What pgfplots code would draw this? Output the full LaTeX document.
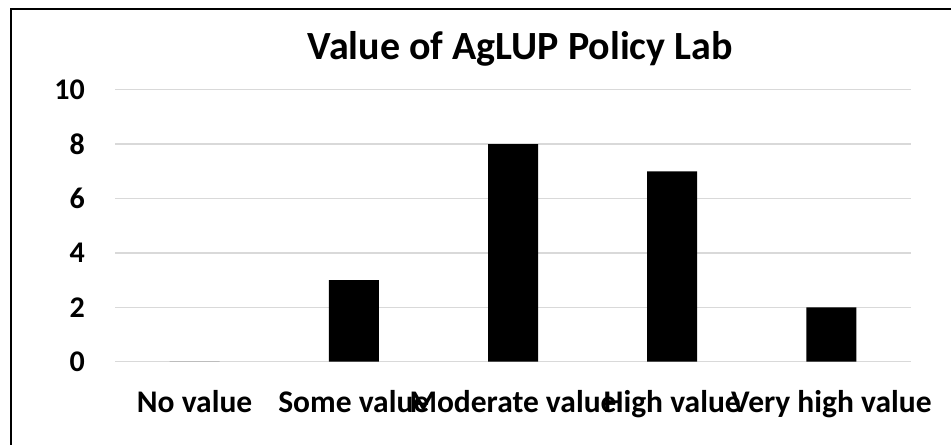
\documentclass[border=0pt]{standalone}
\usepackage{pgfplots}
\pgfplotsset{compat=1.18}
\usepackage{fontspec}
\setmainfont{Carlito}
\definecolor{gridgray}{HTML}{D9D9D9}
\begin{document}
\begin{tikzpicture}[x=1bp,y=1bp]
\useasboundingbox (0,0) rectangle (951,445);
\fill[white] (0,0) rectangle (951,445);
\draw[line width=2bp, black] (11,0) -- (11,436) -- (951,436);
\begin{axis}[
  at={(115bp,83.3bp)}, anchor=south west,
  scale only axis, width=796bp, height=272bp,
  xmin=-0.5, xmax=4.5, ymin=0, ymax=10,
  ytick={0,2,4,6,8,10},
  xtick={0,1,2,3,4},
  xticklabels={No value,Some value,Moderate value,High value,Very high value},
  axis line style={draw=none},
  major tick length=0pt,
  tick style={draw=none},
  ymajorgrids, grid style={gridgray, line width=1.3bp},
  ybar, bar width=50bp,
  /pgf/number format/assume math mode=true,
  yticklabel style={font=\fontsize{30bp}{34bp}\selectfont\bfseries, inner sep=0pt, anchor=east, xshift=-30bp},
  xticklabel style={font=\fontsize{31.5bp}{36bp}\selectfont\bfseries, inner sep=0pt, anchor=base, yshift=-51bp},
  title={Value of AgLUP Policy Lab},
  title style={font=\fontsize{40bp}{46bp}\selectfont\bfseries, inner sep=0pt, anchor=base, at={(rel axis cs:0.509,1)}, yshift=24.5bp},
]
\addplot[fill=black, draw=none] coordinates {(0,0) (1,3) (2,8) (3,7) (4,2)};
\end{axis}
\end{tikzpicture}
\end{document}
